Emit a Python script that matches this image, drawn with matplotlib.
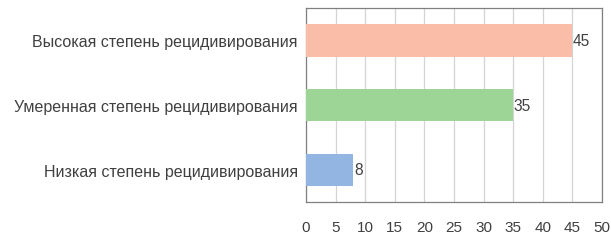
import matplotlib
matplotlib.use('Agg')
import matplotlib.pyplot as plt

plt.rcParams['font.family'] = ['Liberation Sans', 'DejaVu Sans']

# данные
categories = ['Низкая степень рецидивирования',
              'Умеренная степень рецидивирования',
              'Высокая степень рецидивирования']
values = [8, 35, 45]
colors = ['#93b5e1', '#9dd596', '#fabda8']
xticks = list(range(0, 55, 5))

fig = plt.figure(figsize=(6.11, 2.53), dpi=100)
ax = fig.add_axes([0.5008, 0.1976, 0.4845, 0.7668])

ax.barh(categories, values, height=0.5, color=colors, zorder=3)
for i, v in enumerate(values):
    ax.text(v + 0.1, i, str(v), va='center', ha='left', fontsize=11.2, color='#404040', zorder=4)

ax.set_xlim(0, 50)
ax.set_ylim(-0.5, 2.5)
ax.set_xticks(xticks)
ax.grid(axis='x', color='#d4d4d4', linewidth=0.9, zorder=0)
ax.tick_params(axis='x', length=0, labelsize=11, colors='#404040', pad=13)
ax.tick_params(axis='y', length=0, labelsize=11.5, colors='#404040', pad=6)
for s in ax.spines.values():
    s.set_color('#808080')
    s.set_linewidth(0.9)

fig.savefig('out.png', dpi=100)
